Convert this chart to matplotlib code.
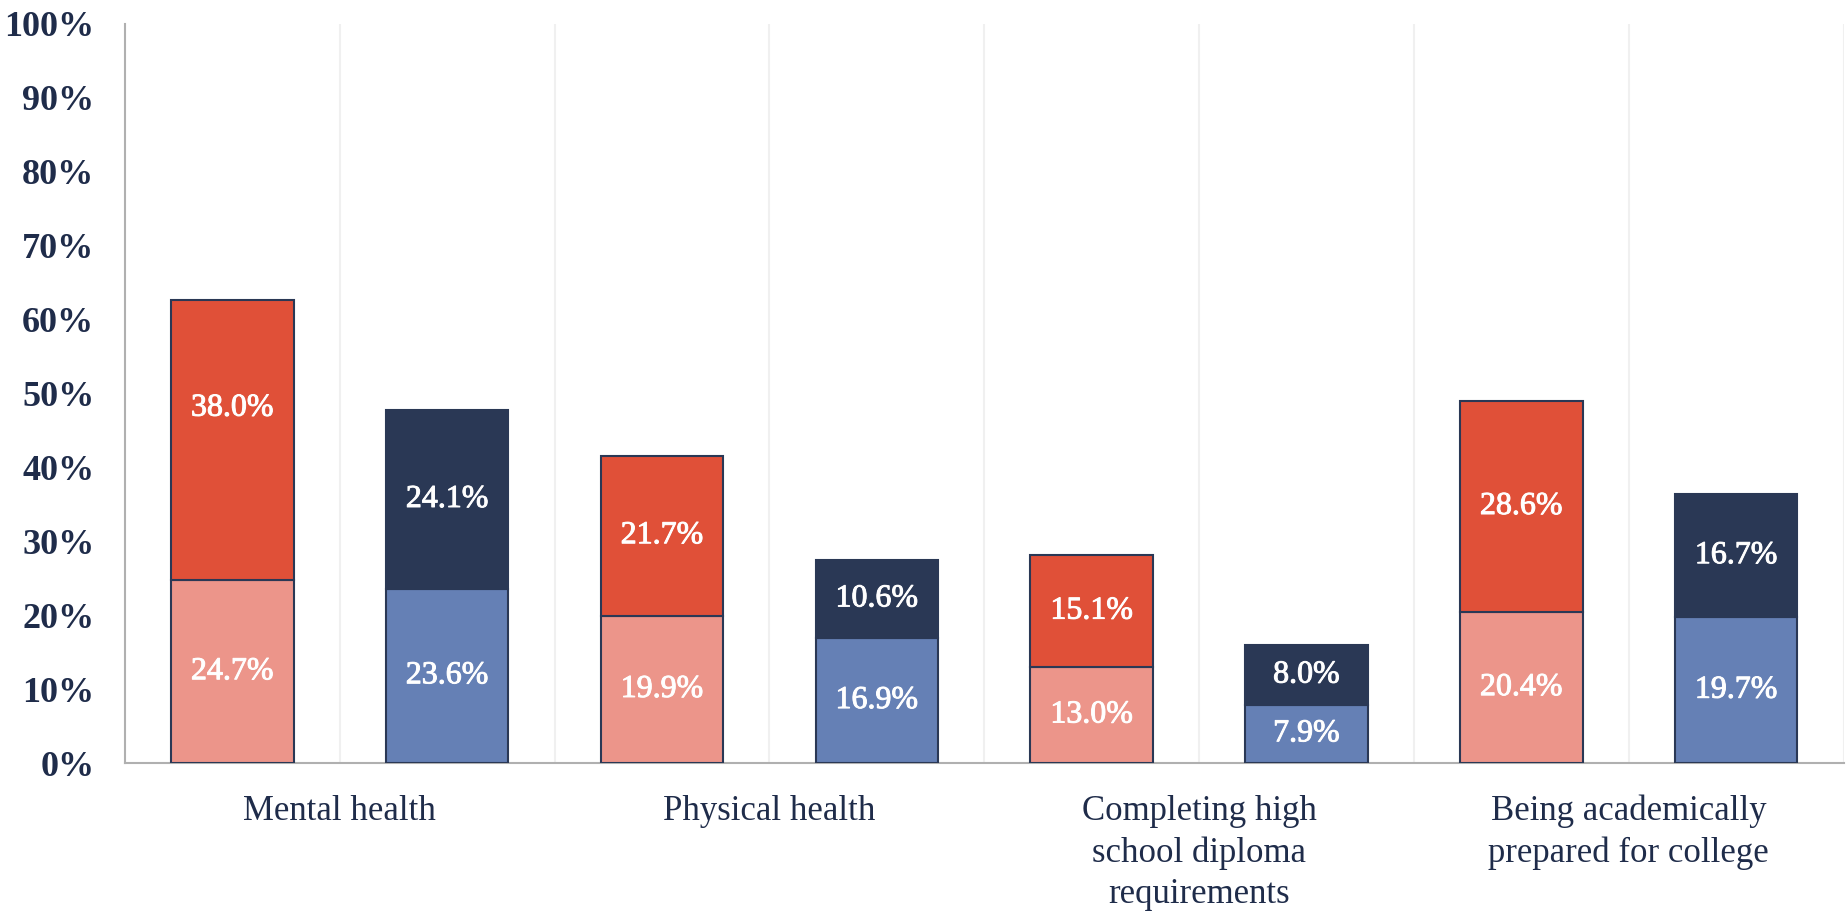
import numpy as np
import matplotlib
matplotlib.use("Agg")
import matplotlib.pyplot as plt
import matplotlib.patheffects as pe

# Data (percent)
categories = ['Mental health', 'Physical health',
              'Completing high\nschool diploma\nrequirements',
              'Being academically\nprepared for college']
red_bottom = [24.7, 19.9, 13.0, 20.4]
red_top = [38.0, 21.7, 15.1, 28.6]
blue_bottom = [23.6, 16.9, 7.9, 19.7]
blue_top = [24.1, 10.6, 8.0, 16.7]
y_ticks = [0, 10, 20, 30, 40, 50, 60, 70, 80, 90, 100]

# Colors
c_red_light = '#EC958A'
c_red = '#E05038'
c_navy = '#2A3855'
c_blue = '#6580B5'
c_text = '#1F2C4A'

plt.rcParams['font.family'] = ['Liberation Serif', 'DejaVu Serif']

fig = plt.figure(figsize=(18.48, 9.16), dpi=100)
ax = fig.add_axes([0.0676, 0.167, 0.930, 0.807])

n = len(categories)
x_red = np.arange(n) * 2
x_blue = x_red + 1
width = 0.57
edge = dict(edgecolor=c_navy, linewidth=1.5)

ax.bar(x_red, red_bottom, width, color=c_red_light, zorder=3, **edge)
ax.bar(x_red, red_top, width, bottom=red_bottom, color=c_red, zorder=3, **edge)
ax.bar(x_blue, blue_bottom, width, color=c_blue, zorder=3, **edge)
ax.bar(x_blue, blue_top, width, bottom=blue_bottom, color=c_navy, zorder=3, **edge)

# value labels, centered in each segment (slight stroke to thicken the serif)
label_kw = dict(ha='center', va='center', color='white', fontsize=23, zorder=4,
                path_effects=[pe.withStroke(linewidth=0.7, foreground='white')])
for i in range(n):
    ax.text(x_red[i], red_bottom[i] / 2, f'{red_bottom[i]:.1f}%', **label_kw)
    # first red label sits a little higher in the original
    off = 4.3 if i == 0 else 0
    ax.text(x_red[i], red_bottom[i] + red_top[i] / 2 + off, f'{red_top[i]:.1f}%', **label_kw)
    ax.text(x_blue[i], blue_bottom[i] / 2, f'{blue_bottom[i]:.1f}%', **label_kw)
    ax.text(x_blue[i], blue_bottom[i] + blue_top[i] / 2, f'{blue_top[i]:.1f}%', **label_kw)

ax.set_xlim(-0.5, 2 * n - 0.5)
ax.set_ylim(0, 100)

ax.set_yticks(y_ticks)
ax.set_yticklabels([f'{v}%' for v in y_ticks], fontsize=26, fontweight='bold', color=c_text)
ax.set_xticks(x_red + 0.5)
ax.set_xticklabels(categories, fontsize=25, color=c_text, linespacing=1.33)
ax.tick_params(axis='both', length=0)
ax.tick_params(axis='x', pad=23)
ax.tick_params(axis='y', pad=22)

# faint vertical separators between bar slots
for xv in np.arange(0.5, 2 * n - 0.5, 1.0):
    ax.axvline(xv, color='#F0F0F0', linewidth=1.5, zorder=0)
ax.axvline(2 * n - 0.5, color='#F0F0F0', linewidth=1.5, zorder=0)

for s in ['top', 'right']:
    ax.spines[s].set_visible(False)
for s in ['left', 'bottom']:
    ax.spines[s].set_color('#B0B0B0')
    ax.spines[s].set_linewidth(1.5)

fig.savefig('out.png', dpi=100)
